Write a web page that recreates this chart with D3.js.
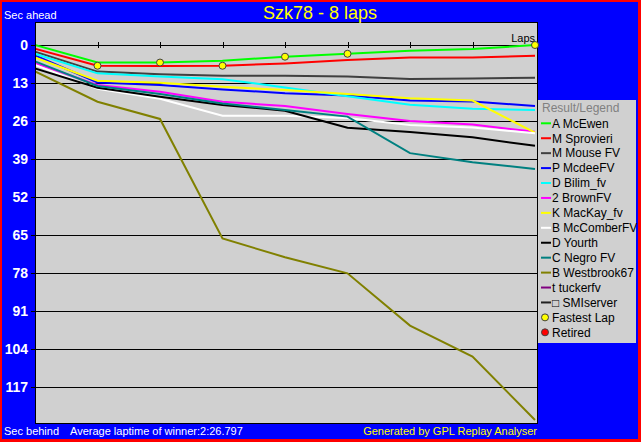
<!DOCTYPE html>
<html>
<head>
<meta charset="utf-8">
<script src="https://cdn.jsdelivr.net/npm/d3@7"></script>
<style>
  body { margin: 0; background: #ff0000; }
  svg { display: block; font-family: 'Liberation Sans', Arial, sans-serif; }
</style>
</head>
<body>
<svg id="chart"></svg>
<script>
// Race data: seconds behind the leader at the end of each lap (lap 0 = start)
const laps = [0, 1, 2, 3, 4, 5, 6, 7, 8];
const yTicks = [0, 13, 26, 39, 52, 65, 78, 91, 104, 117];

const mcEwen    = [0, 6.0, 6.0, 5.4, 4.0, 3.0, 2.0, 1.4, 0];
const sprovieri = [1.3, 7.1, 7.2, 7.1, 6.3, 5.1, 4.3, 4.3, 3.7];
const mouse     = [2.3, 9.1, 10.0, 10.5, 10.5, 10.8, 11.6, 11.5, 11.2];
const mcdee     = [3.6, 12.8, 13.7, 15.2, 16.5, 17.3, 19.0, 19.3, 20.9];
const bilim     = [3.0, 9.7, 10.8, 11.7, 14.5, 17.5, 20.4, 21.8, 22.2];
const brown     = [6.2, 13.7, 16.0, 19.4, 20.9, 23.6, 26.0, 27.2, 29.7];
const mackay    = [4.3, 12.2, 12.9, 14.3, 15.4, 16.8, 18.2, 19.0, 30.0];
const mccomber  = [6.8, 15.0, 18.4, 24.2, 24.2, 25.0, 27.4, 28.2, 30.2];
const yourth    = [8.0, 14.6, 17.7, 20.5, 22.5, 28.3, 29.8, 31.6, 34.5];
const negro     = [5.6, 14.0, 16.8, 20.0, 22.2, 24.5, 37.0, 40.1, 42.4];
const westbrook = [9.0, 19.4, 25.3, 66.2, 72.6, 78.1, 96.0, 106.6, 128.3];

const driverNames = ['A McEwen', 'M Sprovieri', 'M Mouse FV', 'P McdeeFV', 'D Bilim_fv', '2 BrownFV',
  'K MacKay_fv', 'B McComberFV', 'D Yourth', 'C Negro FV', 'B Westbrook67', 't tuckerfv', '\u25A1 SMIserver'];
const driverColors = ['#00ff00', '#ff0000', '#404040', '#0000ff', '#00ffff', '#ff00ff',
  '#ffff00', '#ffffff', '#000000', '#008080', '#808000', '#800080', '#202020'];
const driverGaps = [mcEwen, sprovieri, mouse, mcdee, bilim, brown, mackay, mccomber, yourth, negro, westbrook, null, null];

// Fastest lap markers
const fastestLapNums = [1, 2, 3, 4, 5, 8];
const fastestLapBy = ['M Sprovieri', 'A McEwen', 'M Sprovieri', 'A McEwen', 'A McEwen', 'A McEwen'];

const width = 641, height = 442;
const plot = { left: 35, top: 22, right: 537, bottom: 423 };

const svg = d3.select('#chart')
  .attr('width', width)
  .attr('height', height);

// Background: red frame, blue panel
svg.append('rect').attr('width', width).attr('height', height).attr('fill', '#ff0000');
svg.append('rect').attr('x', 2).attr('y', 2).attr('width', 636).attr('height', 437).attr('fill', '#0000ff');

// Plot area
svg.append('rect')
  .attr('x', plot.left).attr('y', plot.top)
  .attr('width', plot.right - plot.left).attr('height', plot.bottom - plot.top)
  .attr('fill', '#d0d0d0')
  .attr('stroke', '#000')
  .attr('stroke-width', 1)
  .attr('shape-rendering', 'crispEdges');

svg.append('clipPath').attr('id', 'clip')
  .append('rect')
  .attr('x', plot.left + 1).attr('y', plot.top + 1)
  .attr('width', plot.right - plot.left - 1).attr('height', plot.bottom - plot.top - 1);

// Scales
const x = d3.scaleLinear().domain([0, 8]).range([35, 535]);
const y = d3.scaleLinear().domain([0, 117]).range([45, 387]);

// Grid lines
svg.append('g')
  .attr('transform', `translate(${plot.left},0)`)
  .call(d3.axisLeft(y).tickValues(yTicks).tickSize(-(plot.right - plot.left)).tickFormat(''))
  .call(g => g.select('.domain').remove())
  .call(g => g.selectAll('line').attr('stroke', '#000').attr('shape-rendering', 'crispEdges'));

// Y axis labels
svg.append('g')
  .attr('transform', `translate(${plot.left},0)`)
  .call(d3.axisLeft(y).tickValues(yTicks).tickSize(4).tickPadding(3))
  .call(g => g.select('.domain').remove())
  .call(g => g.selectAll('line').attr('stroke', '#000').attr('shape-rendering', 'crispEdges'))
  .call(g => g.selectAll('text')
    .attr('fill', '#fff')
    .style('font-size', '14px')
    .style('font-weight', 'bold')
    .style('font-family', "'Liberation Sans', Arial, sans-serif"));

// Lap ticks on the zero line
svg.append('g')
  .attr('transform', `translate(0,${y(0) - 3})`)
  .call(d3.axisBottom(x).tickValues(laps).tickSize(6).tickFormat(''))
  .call(g => g.select('.domain').remove())
  .call(g => g.selectAll('line').attr('stroke', '#000').attr('shape-rendering', 'crispEdges'));

// Driver lines
const line = d3.line()
  .x((d, i) => x(laps[i]))
  .y(d => y(d));

const lines = svg.append('g').attr('clip-path', 'url(#clip)');
driverGaps.forEach((gaps, i) => {
  if (!gaps) return;
  lines.append('path')
    .datum(gaps)
    .attr('fill', 'none')
    .attr('stroke', driverColors[i])
    .attr('stroke-width', 2)
    .attr('d', line);
});

// Fastest lap markers
fastestLapNums.forEach((lap, i) => {
  const gaps = driverGaps[driverNames.indexOf(fastestLapBy[i])];
  svg.append('circle')
    .attr('cx', x(lap))
    .attr('cy', y(gaps[lap]))
    .attr('r', 3.5)
    .attr('fill', '#ffff00')
    .attr('stroke', '#404040')
    .attr('stroke-width', 1);
});

// Texts
svg.append('text')
  .attr('x', 320).attr('y', 19)
  .attr('text-anchor', 'middle')
  .attr('fill', '#ffff00')
  .style('font-size', '18px')
  .text('Szk78 - 8 laps');

svg.append('text')
  .attr('x', 4).attr('y', 19)
  .attr('fill', '#fff')
  .style('font-size', '11px')
  .text('Sec ahead');

svg.append('text')
  .attr('x', 535).attr('y', 42)
  .attr('text-anchor', 'end')
  .attr('fill', '#000')
  .style('font-size', '11px')
  .text('Laps');

svg.append('text')
  .attr('x', 4).attr('y', 435)
  .attr('fill', '#fff')
  .style('font-size', '11px')
  .text('Sec behind');

svg.append('text')
  .attr('x', 70).attr('y', 435)
  .attr('fill', '#fff')
  .style('font-size', '11px')
  .text('Average laptime of winner:2:26.797');

svg.append('text')
  .attr('x', 537).attr('y', 435)
  .attr('text-anchor', 'end')
  .attr('fill', '#ffff00')
  .style('font-size', '11px')
  .text('Generated by GPL Replay Analyser');

// Legend
const legend = svg.append('g').attr('transform', 'translate(538,100)');

legend.append('rect')
  .attr('width', 98).attr('height', 243)
  .attr('fill', '#d0d0d0');

legend.append('text')
  .attr('x', 4).attr('y', 12)
  .attr('fill', '#808080')
  .style('font-size', '12px')
  .text('Result/Legend');

const rowY = i => 23.3 + i * 14.93;

driverNames.forEach((name, i) => {
  const row = legend.append('g').attr('transform', `translate(0,${rowY(i)})`);
  row.append('line')
    .attr('x1', 3).attr('x2', 13)
    .attr('stroke', driverColors[i])
    .attr('stroke-width', 2);
  row.append('text')
    .attr('x', 14).attr('dy', '0.36em')
    .attr('fill', '#000')
    .style('font-size', '12px')
    .text(name);
});

const extra = [
  { label: 'Fastest Lap', fill: '#ffff00' },
  { label: 'Retired', fill: '#ff0000' }
];
extra.forEach((d, j) => {
  const row = legend.append('g').attr('transform', `translate(0,${rowY(driverNames.length + j)})`);
  row.append('circle')
    .attr('cx', 7).attr('r', 3.5)
    .attr('fill', d.fill)
    .attr('stroke', '#404040')
    .attr('stroke-width', 1);
  row.append('text')
    .attr('x', 14).attr('dy', '0.36em')
    .attr('fill', '#000')
    .style('font-size', '12px')
    .text(d.label);
});
</script>
</body>
</html>
